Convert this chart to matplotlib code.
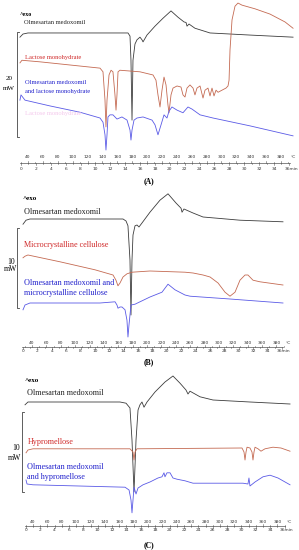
import matplotlib
matplotlib.use('Agg')
import matplotlib.pyplot as plt

W, H = 299, 550

# ---- panel A : olmesartan medoxomil / lactose monohydrate (heat flow mW, offset) ----
a_olm_T = [29.2, 33.3, 40, 174.4, 177.1, 178.4, 179.8, 181.1, 183.8, 186.5, 190.5, 193.2, 194.6,
           199.9, 210.7, 221.4, 232.2, 241.6, 249.7, 252.4, 253.7, 256.4, 264.4, 271.2, 284.6, 338.4, 396.2]
a_olm_hf = [23.4, 24.0, 24.2, 24.2, 23.6, 19.0, 7.6, 19.0, 22.1, 22.9, 23.4, 22.9, 22.5,
            23.8, 25.5, 27.0, 28.4, 27.2, 26.3, 26.2, 25.5, 25.9, 25.1, 24.8, 24.2, 23.8, 23.4]

a_lac_T = [29.2, 31.9, 56.1, 96.4, 136.8, 140.8, 143.5, 144.8, 146.2, 148.9, 151.6, 154.2, 156.9, 158.3,
           159.6, 161.0, 163.6, 190.5, 208.0, 212.0, 214.7, 217.4, 220.1, 222.8, 225.5, 228.1, 229.5,
           232.2, 234.9, 240.3, 245.6, 248.3, 251.0, 253.7, 257.7, 261.8, 264.4, 267.1, 271.2, 275.2,
           277.9, 281.9, 284.6, 287.3, 290.0, 292.7, 295.4, 300.7, 306.1, 308.8, 310.2, 311.5, 314.2,
           318.2, 322.2, 327.6, 345.1, 365.2, 385.4, 396.2]
a_lac_hf = [18.5, 19.0, 18.7, 18.1, 17.5, 16.8, 11.4, 6.3, 11.4, 16.2, 17.1, 16.8, 12.4, 9.5,
            12.4, 16.8, 17.1, 16.8, 16.2, 15.2, 12.4, 10.1, 13.3, 15.8, 14.3, 10.5, 9.0,
            12.4, 13.7, 14.1, 13.9, 12.4, 12.0, 13.7, 14.3, 13.7, 12.4, 13.7, 14.1, 11.8,
            13.3, 13.7, 12.2, 13.7, 12.2, 13.3, 12.9, 13.3, 13.7, 14.1, 15.2, 21.0, 26.7,
            29.3, 29.9, 29.5, 28.8, 27.8, 26.3, 25.1]

a_mix_T = [29.2, 30.6, 36.0, 69.6, 109.9, 136.8, 140.8, 143.5, 144.8, 146.2, 147.5, 150.2, 154.2, 159.6,
           166.3, 173.1, 177.1, 178.4, 179.8, 182.5, 186.5, 194.6, 206.7, 210.7, 214.7, 218.8, 222.8,
           226.8, 229.5, 233.5, 240.3, 248.3, 255.0, 260.4, 271.2, 288.6, 338.4, 396.2]
a_mix_hf = [11.4, 12.4, 11.4, 10.3, 9.1, 8.0, 7.2, 4.8, 1.9, 4.8, 8.2, 8.6, 8.6, 7.8,
            8.2, 7.6, 5.7, 3.8, 5.7, 7.6, 8.0, 8.2, 7.6, 6.7, 4.8, 6.7, 8.6,
            8.0, 9.3, 10.1, 9.5, 9.0, 10.1, 9.7, 8.6, 8.0, 6.5, 4.6]

# ---- panel B : olmesartan medoxomil / microcrystalline cellulose ----
b_olm_T = [27.5, 31.7, 37.2, 166.6, 170.8, 173.5, 176.3, 177.7, 179.1, 180.5, 183.3, 186.1, 188.8,
           193.0, 204.1, 218.0, 229.2, 240.3, 247.3, 248.7, 251.4, 264.0, 277.9, 329.3, 389.1]
b_olm_hf = [15.1, 15.6, 15.75, 15.75, 15.5, 14.9, 10.6, 3.75, 10.6, 13.75, 14.9, 15.0, 14.75,
            15.25, 16.6, 18.1, 18.9, 17.75, 17.1, 16.6, 17.0, 16.5, 16.0, 15.6, 15.4]

b_mcc_T = [27.5, 30.3, 34.4, 79.0, 127.6, 152.7, 156.8, 159.6, 162.4, 166.6, 172.1, 179.1, 204.1,
           252.8, 264.0, 277.9, 287.7, 298.8, 308.5, 315.4, 322.4, 329.3, 336.3, 340.4, 347.4, 357.1, 389.1]
b_mcc_hf = [10.9, 11.1, 11.25, 10.4, 9.4, 8.75, 8.1, 7.4, 7.75, 8.5, 8.9, 9.1, 9.25,
            9.1, 9.0, 8.75, 8.5, 7.75, 6.6, 6.1, 6.6, 8.1, 8.75, 8.75, 8.1, 7.9, 7.5]

b_mix_T = [27.5, 30.3, 37.2, 79.0, 134.6, 155.5, 158.2, 159.6, 162.4, 165.2, 169.4, 172.1, 173.5,
           174.9, 177.7, 183.3, 204.1, 220.8, 229.2, 238.9, 252.8, 259.8, 315.4, 389.1]
b_mix_hf = [4.4, 5.0, 5.25, 5.25, 5.25, 5.4, 5.0, 4.6, 4.75, 4.75, 4.4, 3.1, 1.0,
            2.5, 5.0, 5.1, 6.0, 6.6, 7.6, 6.9, 6.25, 6.1, 5.75, 5.25]

# ---- panel C : olmesartan medoxomil / hypromellose ----
c_olm_T = [28.9, 33.0, 40, 161.0, 169.4, 174.9, 177.7, 180.5, 183.3, 186.1, 188.8, 191.6, 194.4,
           198.6, 209.7, 223.6, 234.7, 244.5, 252.8, 255.6, 258.4, 272.3, 290.4, 341.8, 397.5]
c_olm_hf = [14.4, 14.75, 14.75, 14.75, 14.6, 14.0, 10.0, 3.5, 10.0, 13.75, 14.4, 14.75, 14.1,
            14.75, 16.0, 17.25, 18.0, 17.1, 16.25, 15.75, 16.1, 15.4, 15.0, 14.75, 14.5]

c_hpmc_T = [30.3, 33.0, 40, 174.9, 179.1, 180.5, 181.9, 184.6, 330.7, 333.5, 334.9, 336.3, 337.7,
            341.8, 344.6, 346.0, 347.4, 348.8, 353.0, 357.1, 362.7, 373.8, 384.9, 397.5]
c_hpmc_hf = [8.4, 8.75, 8.9, 8.9, 8.5, 7.5, 8.5, 8.9, 9.0, 8.5, 7.5, 8.5, 9.1,
             9.0, 8.5, 7.5, 8.5, 9.1, 8.9, 8.6, 8.9, 9.1, 9.0, 8.6]

c_mix_T = [30.3, 31.7, 40, 168.0, 173.6, 176.3, 177.7, 179.1, 180.5, 183.3, 186.1, 193.0, 202.7,
           213.8, 219.4, 222.2, 223.6, 226.4, 230.6, 234.7, 240.3, 251.4, 262.6, 332.1, 339.0,
           340.4, 341.8, 348.8, 359.9, 369.7, 380.8, 397.5]
c_mix_hf = [5.0, 4.5, 4.4, 4.1, 3.75, 2.5, 0.9, 2.5, 4.1, 3.25, 4.0, 4.4, 4.75,
            5.25, 5.4, 5.9, 5.4, 5.9, 5.9, 5.25, 5.1, 4.9, 4.6, 4.6, 4.5,
            5.25, 4.25, 4.75, 5.4, 5.6, 5.25, 4.4]

temp_ticks = list(range(40, 381, 20))
time_ticks = list(range(0, 37, 2))

BLACK = '#3c3c3c'
RED_LINE = '#c46a52'
RED_TXT = '#d02a2a'
BLUE_LINE = '#5a5ae6'
BLUE_TXT = '#2222cc'
SERIF = 'Liberation Serif'

fig = plt.figure(figsize=(W / 100, H / 100), dpi=100)
fig.patch.set_facecolor('white')


def ptext(x, y, s, **kw):
    kw.setdefault('va', 'center')
    kw.setdefault('family', SERIF)
    fig.text(x / W, 1 - y / H, s, **kw)


def make_panel(y0, y1, xlim, ylim):
    ax = fig.add_axes([0, 1 - y1 / H, 1, (y1 - y0) / H])
    ax.set_xlim(*xlim)
    ax.set_ylim(*ylim)
    ax.axis('off')
    return ax


def ruler(ax, y0, y1, ypx, t0, up, down, fs):
    """temperature / time ruler under each thermogram"""
    hgt = y1 - y0
    fr = lambda p: (y1 - p) / hgt
    tr = ax.get_xaxis_transform()
    tmin = t0 - 1
    tmax = t0 + 10 * time_ticks[-1] + 1
    ax.plot([tmin, tmax], [fr(ypx), fr(ypx)], color='#555555', lw=0.5, transform=tr)
    for t in range(30, 391, 10):
        ln = 2 if t % 20 == 0 else 1
        ax.plot([t, t], [fr(ypx), fr(ypx - ln)], color='#555555', lw=0.4, transform=tr)
    for t in temp_ticks:
        ax.text(t, fr(ypx - up), str(t), transform=tr, ha='center', va='center',
                fontsize=fs, color='#333333', family='DejaVu Sans')
    ax.text(temp_ticks[-1] + 16, fr(ypx - up), '°C', transform=tr, ha='center', va='center',
            fontsize=fs, color='#333333', family='DejaVu Sans')
    for m in range(0, 37):
        T = t0 + 10 * m
        ln = 2 if m % 2 == 0 else 1
        ax.plot([T, T], [fr(ypx), fr(ypx + ln)], color='#555555', lw=0.4, transform=tr)
    for m in time_ticks:
        lab = str(m) if m < 36 else '36min'
        ax.text(t0 + 10 * m + (3 if m == 36 else 0), fr(ypx + down), lab, transform=tr,
                ha='center', va='center', fontsize=fs, color='#333333', family='DejaVu Sans')


def bracket(ax, T, top, scale, d):
    ax.plot([T + d, T, T, T + d], [top, top, top - scale, top - scale],
            color='#444444', lw=0.6)


# ---------------- panel A ----------------
axA = make_panel(0, 180, (2.4, 404.2), (-3.81, 30.48))
axA.plot(a_olm_T, a_olm_hf, color=BLACK, lw=0.6)
axA.plot(a_lac_T, a_lac_hf, color=RED_LINE, lw=0.6)
axA.plot(a_mix_T, a_mix_hf, color=BLUE_LINE, lw=0.6)
bracket(axA, 25.2, 24.4, 20, 3)
ruler(axA, 0, 180, 163, 30.6, 5.5, 6.5, 3.2)

ptext(20, 14, '^exo', fontsize=4.3, fontweight='bold')
ptext(24, 23, 'Olmesartan medoxomil', fontsize=4.7, color='#222222')
ptext(25, 57, 'Lactose monohydrate', fontsize=4.7, color=RED_TXT)
ptext(25, 82, 'Olmesartan medoxomil', fontsize=4.7, color=BLUE_TXT)
ptext(25, 92, 'and lactose monohydrate', fontsize=4.7, color=BLUE_TXT)
ptext(25, 113, 'Lactose monohydrate', fontsize=4.7, color='#f4c8ec')
ptext(9, 78, '20', fontsize=5, ha='center')
ptext(9, 88, 'mW', fontsize=5, ha='center')
ptext(149, 181, '(A)', fontsize=5.5, ha='center', fontweight='bold')

# ---------------- panel B ----------------
axB = make_panel(180, 360, (-4.5, 411.4), (-1.875, 20.625))
axB.plot(b_olm_T, b_olm_hf, color=BLACK, lw=0.6)
axB.plot(b_mcc_T, b_mcc_hf, color=RED_LINE, lw=0.6)
axB.plot(b_mix_T, b_mix_hf, color=BLUE_LINE, lw=0.6)
bracket(axB, 19.1, 14.6, 10, 3)
ruler(axB, 180, 360, 347, 27.5, 4.5, 4.5, 3.2)

ptext(23, 198, '^exo', fontsize=5, fontweight='bold')
ptext(24, 212, 'Olmesartan medoxomil', fontsize=5.9, color='#222222')
ptext(24, 245, 'Microcrystalline cellulose', fontsize=5.9, color=RED_TXT)
ptext(24, 283, 'Olmesartan medoxomil and', fontsize=5.9, color=BLUE_TXT)
ptext(24, 293, 'microcrystalline cellulose', fontsize=5.9, color=BLUE_TXT)
ptext(11, 262, '10', fontsize=5.5, ha='center')
ptext(10, 269, 'mW', fontsize=5.5, ha='center')
ptext(149, 362, '(B)', fontsize=5.5, ha='center', fontweight='bold')

# ---------------- panel C ----------------
axC = make_panel(360, 550, (-5.9, 410.0), (-3.75, 20.0))
axC.plot(c_olm_T, c_olm_hf, color=BLACK, lw=0.6)
axC.plot(c_hpmc_T, c_hpmc_hf, color=RED_LINE, lw=0.6)
axC.plot(c_mix_T, c_mix_hf, color=BLUE_LINE, lw=0.6)
bracket(axC, 24.7, 13.5, 10, 3)
ruler(axC, 360, 550, 526, 30.0, 4, 4, 3.2)

ptext(25, 381, '^exo', fontsize=5, fontweight='bold')
ptext(27, 393, 'Olmesartan medoxomil', fontsize=5.9, color='#222222')
ptext(28, 442, 'Hypromellose', fontsize=5.9, color=RED_TXT)
ptext(27, 467, 'Olmesartan medoxomil', fontsize=5.9, color=BLUE_TXT)
ptext(27, 477, 'and hypromellose', fontsize=5.9, color=BLUE_TXT)
ptext(16, 448, '10', fontsize=5.5, ha='center')
ptext(15, 458, 'mW', fontsize=5.5, ha='center')
ptext(149, 545, '(C)', fontsize=5.5, ha='center', fontweight='bold')

fig.savefig('out.png', dpi=100)
